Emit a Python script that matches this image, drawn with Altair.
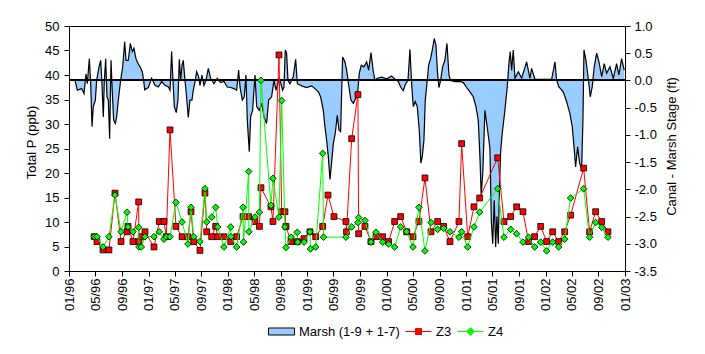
import altair as alt
import pandas as pd

SERIES = ["Marsh (1-9 + 1-7)", "Z3", "Z4"]
FILLS = ["#99ccff", "#ff0000", "#00ff00"]
STROKES = ["#000000", "#ff0000", "#00ff00"]

# sampling dates as decimal years
SAMPLE_YEAR = [
    1996.318, 1996.352, 1996.428, 1996.503, 1996.579, 1996.655, 1996.730, 1996.743, 1996.806, 1996.877,
    1996.881, 1996.910, 1996.957, 1997.070, 1997.137, 1997.196, 1997.225, 1997.272, 1997.347, 1997.423,
    1997.498, 1997.536, 1997.570, 1997.649, 1997.712, 1997.734, 1997.797, 1997.847, 1997.872, 1997.951,
    1998.036, 1998.040, 1998.111, 1998.191, 1998.198, 1998.262, 1998.265, 1998.342, 1998.398, 1998.417,
    1998.543, 1998.568, 1998.644, 1998.678, 1998.719, 1998.732, 1998.795, 1998.874, 1998.880, 1998.959,
    1999.034, 1999.040, 1999.106, 1999.194, 1999.205, 1999.261, 1999.336, 1999.487, 1999.494, 1999.559,
    1999.638, 1999.647, 1999.727, 1999.802, 1999.865, 1999.949, 2000.025, 2000.100, 2000.176, 2000.252,
    2000.331, 2000.406, 2000.482, 2000.558, 2000.642, 2000.717, 2000.797, 2000.910, 2000.944, 2001.020,
    2001.099, 2001.171, 2001.397, 2001.477, 2001.561, 2001.636, 2001.716, 2001.787, 2001.863, 2001.939,
    2002.014, 2002.090, 2002.165, 2002.241, 2002.316, 2002.480, 2002.555, 2002.631, 2002.707, 2002.786,
]
Z3 = [
    7.0, 6.0, 4.3, 4.3, 15.9, 6.0, 8.0, 9.1, 6.0, 14.1,
    6.0, 7.0, 8.0, 4.9, 10.1, 10.1, 7.0, 28.8, 9.1, 7.0,
    7.0, 12.1, 6.0, 4.2, 15.9, 8.0, 7.0, 9.1, 7.0, 7.0,
    6.0, None, 7.0, 11.1, None, 11.1, None, 10.1, 9.1, 17.0,
    13.1, 10.1, 44.1, 12.1, 12.1, 9.1, 6.0, 6.0, None, 6.6,
    8.0, None, 7.0, 9.1, None, 15.5, 11.1, 10.1, 8.0, 27.0,
    36.0, 7.6, 9.1, 6.0, 7.0, 7.0, 6.0, 10.1, 11.1, 8.0,
    7.0, 10.1, 19.0, 8.0, 10.1, 9.1, 6.0, 10.1, 26.0, 7.0,
    13.1, 14.9, 23.1, 10.1, 11.1, 13.1, 12.1, 6.0, 7.0, 9.1,
    6.0, 8.0, 6.0, 8.0, 11.4, 21.0, 8.0, 12.1, 10.1, 8.0,
]
Z4 = [
    7.0, 7.0, 4.9, 7.0, 15.5, 8.0, 12.0, 9.0, 8.0, 8.9,
    4.9, 4.9, 7.0, 7.0, 8.0, 6.5, 7.0, 7.0, 14.0, 10.0,
    5.5, 13.0, 7.0, 6.0, 16.8, 10.0, 11.0, 13.0, 9.0, 4.9,
    9.0, 7.0, 4.9, 13.0, 5.9, 20.3, 8.0, 11.0, 12.0, 38.9,
    13.4, 18.9, 11.0, 34.8, 9.0, 4.8, 6.9, 7.9, 5.9, 5.9,
    8.0, 4.5, 4.9, 24.0, 6.9, None, None, 6.9, None, 9.0,
    9.9, 10.9, 10.3, 5.9, 7.9, 5.9, 5.5, 4.9, 9.0, 8.0,
    4.9, 13.0, 4.1, 9.9, 8.5, 8.7, 8.0, 6.9, 8.0, 4.9,
    9.0, 12.0, 16.8, 6.9, 8.5, 7.6, 5.9, 6.9, 4.9, 5.9,
    4.1, 5.9, 4.9, 6.5, 14.9, 16.8, 6.9, 9.9, 8.9, 6.9,
]

# canal - marsh stage (ft), dates as decimal years
STAGE_YEAR = [
    1996.004, 1996.034, 1996.076, 1996.105, 1996.159, 1996.189, 1996.214, 1996.231, 1996.256, 1996.273,
    1996.290, 1996.306, 1996.332, 1996.348, 1996.378, 1996.399, 1996.415, 1996.432, 1996.445, 1996.462,
    1996.478, 1996.495, 1996.512, 1996.529, 1996.546, 1996.562, 1996.583, 1996.600, 1996.621, 1996.650,
    1996.676, 1996.701, 1996.718, 1996.747, 1996.772, 1996.797, 1996.818, 1996.843, 1996.869, 1996.894,
    1996.923, 1996.940, 1996.953, 1996.999, 1997.041, 1997.083, 1997.125, 1997.167, 1997.209, 1997.251,
    1997.272, 1997.292, 1997.309, 1997.326, 1997.351, 1997.372, 1997.389, 1997.406, 1997.423, 1997.439,
    1997.460, 1997.477, 1997.502, 1997.523, 1997.548, 1997.565, 1997.590, 1997.607, 1997.632, 1997.649,
    1997.674, 1997.700, 1997.725, 1997.754, 1997.783, 1997.825, 1997.867, 1997.909, 1997.951, 1997.993,
    1998.035, 1998.077, 1998.111, 1998.136, 1998.153, 1998.182, 1998.207, 1998.228, 1998.245, 1998.270,
    1998.287, 1998.312, 1998.342, 1998.363, 1998.396, 1998.426, 1998.455, 1998.488, 1998.514, 1998.551,
    1998.581, 1998.606, 1998.648, 1998.690, 1998.707, 1998.723, 1998.740, 1998.757, 1998.782, 1998.824,
    1998.854, 1998.875, 1998.929, 1998.992, 1999.055, 1999.097, 1999.139, 1999.168, 1999.202, 1999.223,
    1999.244, 1999.265, 1999.286, 1999.307, 1999.328, 1999.353, 1999.378, 1999.399, 1999.420, 1999.445,
    1999.475, 1999.496, 1999.525, 1999.550, 1999.580, 1999.609, 1999.630, 1999.655, 1999.680, 1999.714,
    1999.748, 1999.773, 1999.802, 1999.832, 1999.852, 1999.882, 1999.937, 2000.000, 2000.062, 2000.104,
    2000.146, 2000.179, 2000.209, 2000.238, 2000.268, 2000.293, 2000.314, 2000.335, 2000.360, 2000.385,
    2000.410, 2000.431, 2000.448, 2000.469, 2000.486, 2000.511, 2000.528, 2000.553, 2000.578, 2000.599,
    2000.620, 2000.641, 2000.658, 2000.679, 2000.704, 2000.733, 2000.759, 2000.784, 2000.805, 2000.860,
    2000.923, 2000.965, 2001.006, 2001.048, 2001.090, 2001.124, 2001.153, 2001.174, 2001.190, 2001.210,
    2001.237, 2001.271, 2001.300, 2001.318, 2001.335, 2001.354, 2001.372, 2001.388, 2001.405, 2001.420,
    2001.435, 2001.455, 2001.489, 2001.518, 2001.539, 2001.556, 2001.573, 2001.594, 2001.615, 2001.657,
    2001.699, 2001.762, 2001.804, 2001.825, 2001.867, 2001.968, 2002.077, 2002.119, 2002.140, 2002.169,
    2002.223, 2002.266, 2002.307, 2002.337, 2002.362, 2002.379, 2002.404, 2002.429, 2002.455, 2002.471,
    2002.484, 2002.509, 2002.538, 2002.563, 2002.588, 2002.613, 2002.644, 2002.673, 2002.707, 2002.739,
    2002.769, 2002.811, 2002.853, 2002.895, 2002.924, 2002.958, 2002.991,
]
STAGE_FT = [
    0.00, 0.02, 0.00, -0.18, -0.15, -0.24, 0.12, -0.06, 0.40, -0.06,
    -0.85, -0.48, -0.36, 0.00, 0.25, 0.37, -0.06, -0.67, 0.00, 0.40,
    -0.30, -0.36, -1.07, 0.37, -0.24, -0.73, -0.79, -0.67, -0.36, 0.00,
    0.25, 0.71, 0.37, 0.37, 0.68, 0.53, 0.59, 0.40, 0.31, 0.25,
    0.16, 0.00, -0.17, -0.13, 0.04, -0.09, -0.12, -0.02, -0.09, -0.12,
    -0.18, 0.53, 0.00, -0.48, -0.59, -0.36, 0.39, 0.00, 0.28, 0.37,
    0.00, -0.24, -0.68, -0.36, -0.36, -0.18, 0.00, 0.16, 0.07, -0.09,
    0.10, -0.09, 0.00, 0.22, 0.04, -0.06, 0.04, -0.04, -0.02, -0.12,
    -0.13, -0.15, -0.18, 0.19, -0.12, -0.36, -0.30, 0.10, -0.73, -1.31,
    -0.67, -0.55, 0.10, -0.48, -0.55, -0.42, -0.67, -0.79, -0.36, -0.30,
    0.00, -0.18, 0.04, -0.18, -0.12, 0.56, 0.50, 0.00, -0.06, 0.07,
    0.39, -0.06, -0.10, -0.13, -0.10, -0.15, -0.21, -0.30, -0.55, -0.85,
    -1.10, -1.40, -1.82, -1.50, -1.16, -0.97, -0.64, -0.91, -0.94, 0.43,
    0.34, 0.19, -0.12, -0.36, -0.42, -0.33, -0.30, 0.13, 0.28, 0.25,
    0.34, 0.19, 0.51, 0.16, 0.00, 0.04, 0.06, 0.03, 0.08, 0.02,
    -0.02, -0.13, -0.19, -0.06, 0.00, 0.57, -0.06, -0.48, -0.39, -0.48,
    -0.91, -1.52, -1.40, -1.10, -0.36, 0.00, 0.28, 0.40, 0.59, 0.77,
    0.65, 0.13, -0.13, 0.00, 0.25, 0.37, 0.68, 0.10, 0.00, -0.02,
    -0.02, -0.04, -0.13, -0.21, -0.30, -0.48, -0.73, -1.40, -2.10, -1.70,
    -0.55, -0.91, -1.25, -2.60, -3.00, -2.20, -3.06, -2.50, -3.00, -2.00,
    -1.30, -0.97, -0.54, -0.12, 0.31, 0.53, 0.19, 0.56, 0.04, 0.16,
    0.04, 0.34, 0.04, 0.22, 0.02, 0.02, 0.02, 0.34, 0.00, -0.12,
    -0.21, -0.39, -0.61, -0.85, -1.28, -1.59, -1.22, -1.52, -1.62, -0.73,
    0.56, 0.37, 0.04, -0.30, -0.12, 0.25, 0.50, 0.34, 0.07, 0.31,
    0.13, 0.25, 0.04, 0.31, 0.10, 0.40, 0.19,
]

X_TICK_MONTHS = [
    "1996-01", "1996-05", "1996-09", "1997-01", "1997-05", "1997-09",
    "1998-01", "1998-05", "1998-09", "1999-01", "1999-05", "1999-09",
    "2000-01", "2000-05", "2000-09", "2001-01", "2001-05", "2001-09",
    "2002-01", "2002-05", "2002-09", "2003-01",
]
LEFT_TICKS = [0, 5, 10, 15, 20, 25, 30, 35, 40, 45, 50]
RIGHT_TICKS = [-3.5, -3.0, -2.5, -2.0, -1.5, -1.0, -0.5, 0.0, 0.5, 1.0]

# legend symbols: swatch, line with square, line with diamond
LEGEND_SHAPES = [
    "M-1,-0.27H1V0.27H-1Z",
    "M-1,0H1M-0.23,-0.23H0.23V0.23H-0.23Z",
    "M-1,0H1M0,-0.3L0.3,0L0,0.3L-0.3,0Z",
]

FONT = "Liberation Sans"
BASE = pd.Timestamp("1996-01-01")


def to_date(y):
    return BASE + pd.to_timedelta((y - 1996.0) * 365.25, unit="D")


stage_df = pd.DataFrame({"date": [to_date(y) for y in STAGE_YEAR], "stage": STAGE_FT})


def series_df(name, vals):
    rows = [(to_date(y), v) for y, v in zip(SAMPLE_YEAR, vals) if v is not None]
    return pd.DataFrame({"date": [r[0] for r in rows], "value": [r[1] for r in rows], "series": name})


z3_df = series_df("Z3", Z3)
z4_df = series_df("Z4", Z4)


def dt(s):
    return alt.DateTime(year=int(s[:4]), month=int(s[5:]), date=1)


x_scale = alt.Scale(domain=[dt("1996-01"), dt("2003-01")], nice=False)
x_axis = alt.Axis(
    values=[dt(s) for s in X_TICK_MONTHS], format="%m/%y", labelAngle=270,
    title=None, labelFlush=False, labelOverlap=False, tickSize=5, labelPadding=2,
    labelBound=False,
)
X = alt.X("date:T", scale=x_scale, axis=x_axis)

right_scale = alt.Scale(domain=[-3.5, 1.0], nice=False, zero=False)
left_scale = alt.Scale(domain=[0, 50], nice=False, zero=False)

MINUS = "\u2212"
right_axis = alt.Axis(
    values=RIGHT_TICKS, orient="right", title="Canal - Marsh Stage (ft)",
    labelExpr="replace(format(datum.value, '.1f'), '" + MINUS + "', '-')",
    titleAngle=270, titleX=50, titleY=120, titleBaseline="alphabetic", titleAlign="center",
    tickSize=5, labelPadding=4,
)
left_axis = alt.Axis(
    values=LEFT_TICKS, orient="left", title="Total P (ppb)",
    titleAngle=270, titleX=-34, titleY=116, titleBaseline="alphabetic", titleAlign="center",
    tickSize=5, labelPadding=5,
)
YR = alt.Y("stage:Q", scale=right_scale, axis=right_axis)
YL = alt.Y("value:Q", scale=left_scale, axis=left_axis)

legend = alt.Legend(
    title=None, orient="none", legendX=199, legendY=292, direction="horizontal",
    symbolSize=676, symbolStrokeWidth=1, symbolOpacity=1, labelOffset=4,
    columnPadding=3, padding=0, gridAlign="none",
)

area = alt.Chart(stage_df).mark_area(color="#99ccff", opacity=1).encode(
    x=X, y=YR, y2=alt.datum(0)
)
outline = alt.Chart(stage_df).mark_line(color="black", strokeWidth=1.2).encode(x=X, y=YR)
zero_rule = alt.Chart(stage_df).mark_rule(color="black", strokeWidth=1).encode(
    y=alt.YDatum(0, scale=right_scale, axis=right_axis)
)
right_group = alt.layer(area, outline, zero_rule)

z3_line = alt.Chart(z3_df).mark_line(color="#ff0000", strokeWidth=1).encode(x=X, y=YL)
z3_pts = alt.Chart(z3_df).mark_point(
    filled=True, shape="square", size=34, opacity=1, fill="#ff0000", stroke="black", strokeWidth=0.8
).encode(x=X, y=YL)
z4_line = alt.Chart(z4_df).mark_line(color="#00ff00", strokeWidth=1).encode(x=X, y=YL)
z4_pts = alt.Chart(z4_df).mark_point(
    filled=True, shape="diamond", size=44, opacity=1, fill="#00ff00", stroke="black", strokeWidth=0.8
).encode(x=X, y=YL)

# legend carrier (no visible marks)
legend_layer = alt.Chart(z3_df).mark_point(filled=True, opacity=1).encode(
    x=X,
    y=YL,
    color=alt.Color("series:N", scale=alt.Scale(domain=SERIES, range=FILLS), legend=legend),
    shape=alt.Shape("series:N", scale=alt.Scale(domain=SERIES, range=LEGEND_SHAPES), legend=legend),
    stroke=alt.Stroke("series:N", scale=alt.Scale(domain=SERIES, range=STROKES), legend=legend),
).transform_filter("false")

left_group = alt.layer(z3_line, z3_pts, z4_line, z4_pts, legend_layer)

chart = (
    alt.layer(right_group, left_group)
    .resolve_scale(y="independent")
    .properties(
        width=556, height=245,
        padding={"left": 69, "top": 26, "right": 80, "bottom": 83},
        autosize=alt.AutoSizeParams(type="none"),
        background="white",
    )
    .configure_axis(
        labelFont=FONT, labelFontSize=13, labelColor="black",
        titleFont=FONT, titleFontSize=13, titleFontWeight="normal", titleColor="black",
        domainColor="black", tickColor="black", grid=False,
    )
    .configure_legend(labelFont=FONT, labelFontSize=13, labelColor="black")
    .configure_view(stroke="black", strokeWidth=1)
)

chart.save("out.html", embed_options={"renderer": "svg", "actions": False})
